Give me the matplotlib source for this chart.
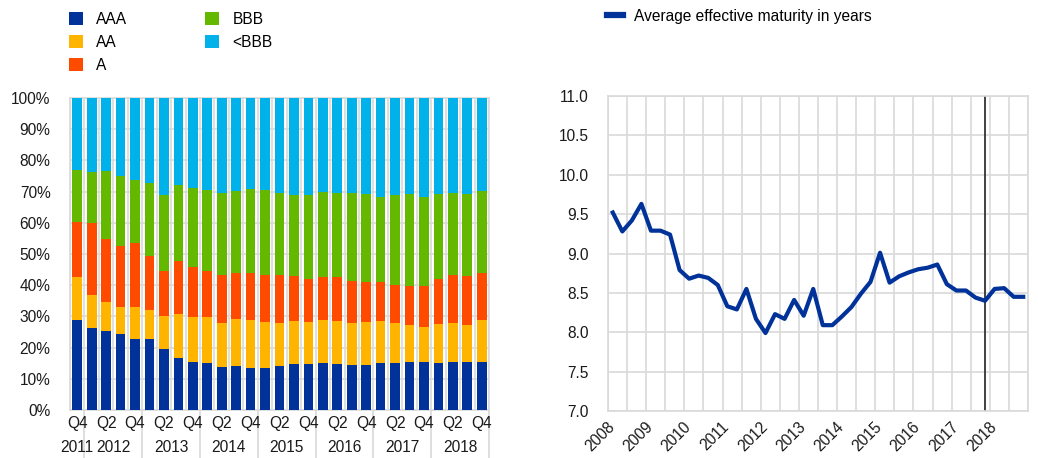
import numpy as np
import matplotlib
matplotlib.use('Agg')
import matplotlib.pyplot as plt
from matplotlib.patches import Patch
from matplotlib.lines import Line2D

plt.rcParams['font.family'] = ['Liberation Sans', 'DejaVu Sans']
plt.rcParams['font.size'] = 11.2

# left panel: rating shares, Q4 2011 - Q4 2018 (percent)
quarters = ['Q4'] + ['Q1', 'Q2', 'Q3', 'Q4'] * 7
years = ['2011', '2012', '2013', '2014', '2015', '2016', '2017', '2018']
aaa = [28.7, 26.3, 25.3, 24.4, 22.9, 22.9, 19.7, 16.8, 15.4, 15.1, 13.7, 14.0, 13.6, 13.6, 14.0,
       14.7, 14.9, 15.2, 14.8, 14.4, 14.4, 15.2, 15.2, 15.4, 15.4, 15.1, 15.5, 15.3, 15.5]
aa = [13.9, 10.4, 9.4, 8.6, 10.1, 9.2, 10.4, 14.1, 14.4, 14.7, 14.3, 15.1, 15.3, 14.6, 14.0,
      13.9, 13.3, 13.7, 13.8, 13.4, 13.8, 13.4, 12.6, 11.9, 11.2, 12.4, 12.5, 12.0, 13.2]
a = [17.8, 23.2, 20.0, 19.5, 20.5, 17.1, 14.4, 16.7, 15.9, 14.8, 15.2, 14.8, 15.0, 15.1, 15.3,
     14.5, 13.7, 13.7, 13.9, 13.4, 12.8, 12.4, 12.4, 12.6, 13.1, 14.6, 15.2, 15.5, 15.2]
bbb = [16.4, 16.4, 21.9, 22.5, 20.2, 23.6, 24.4, 24.4, 25.6, 26.0, 26.3, 26.3, 27.0, 27.3, 26.3,
       25.7, 26.9, 27.3, 27.1, 28.4, 28.2, 27.4, 28.6, 29.2, 28.5, 27.0, 26.4, 26.3, 26.2]
below_bbb = [23.2, 23.7, 23.4, 25.0, 26.3, 27.2, 31.1, 28.0, 28.7, 29.4, 30.5, 29.8, 29.1, 29.4, 30.4,
             31.2, 31.2, 30.1, 30.4, 30.4, 30.8, 31.6, 31.2, 30.9, 31.8, 30.9, 30.4, 30.9, 29.9]
rating_labels = ['AAA', 'AA', 'A', 'BBB', '<BBB']
rating_colors = ['#003299', '#FFB400', '#FF4B00', '#65B800', '#00B1EA']

# right panel: average effective maturity, quarterly 2008 Q1 - 2018 Q4
maturity = [9.52, 9.28, 9.42, 9.63, 9.29, 9.29, 9.24, 8.79, 8.68, 8.72, 8.69, 8.60,
            8.33, 8.29, 8.55, 8.17, 7.99, 8.23, 8.17, 8.41, 8.21, 8.55, 8.09, 8.09,
            8.20, 8.32, 8.49, 8.64, 9.01, 8.63, 8.71, 8.76, 8.80, 8.82, 8.86, 8.61,
            8.53, 8.53, 8.44, 8.40, 8.55, 8.56, 8.45, 8.45]
mat_years = [str(y) for y in range(2008, 2019)]
marker_idx = 39  # 2017 Q4

grid_col = '#D9D9D9'
txt_col = '#1A1A1A'

fig = plt.figure(figsize=(10.38, 4.58), dpi=100)

# ---- left chart
ax1 = fig.add_axes([70/1038, 48/458, 419/1038, 312/458])
x = np.arange(len(aaa))
bottom = np.zeros(len(aaa))
for vals, lab, col in zip([aaa, aa, a, bbb, below_bbb], rating_labels, rating_colors):
    ax1.bar(x, vals, bottom=bottom, width=0.67, color=col, label=lab, zorder=3)
    bottom += np.array(vals)

ax1.set_xlim(-0.5, len(aaa) - 0.5)
ax1.set_ylim(0, 100)
ax1.set_yticks(np.arange(0, 101, 10))
ax1.set_yticklabels(['%d%%' % v for v in range(0, 101, 10)])
ax1.set_xticks(x[::2])
ax1.set_xticklabels([quarters[i] for i in x[::2]])
ax1.set_xticks(np.arange(-0.5, len(aaa)), minor=True)
ax1.grid(axis='y', color=grid_col, lw=1.2, zorder=0)
ax1.grid(axis='x', which='minor', color=grid_col, lw=1.2, zorder=0)
ax1.tick_params(axis='both', which='both', length=0, colors=txt_col)
ax1.tick_params(axis='y', pad=14)
ax1.tick_params(axis='x', pad=4)
for s in ax1.spines.values():
    s.set_color(grid_col)
    s.set_linewidth(1.2)

trans = ax1.get_xaxis_transform()
# year row and separators
ax1.text(0, -0.121, years[0], transform=trans, ha='center', va='center', color=txt_col)
for k, yr in enumerate(years[1:]):
    ax1.text(2.5 + 4*k, -0.121, yr, transform=trans, ha='center', va='center', color=txt_col)
for xs in np.arange(0.5, len(aaa), 4):
    ax1.plot([xs, xs], [0, -0.16], transform=trans, color=grid_col, lw=1.2, clip_on=False, zorder=1)

handles = [Patch(facecolor=c, label=l) for l, c in zip(rating_labels, rating_colors)]
fig.legend(handles=handles, loc='upper left', bbox_to_anchor=(69/1038, 1 - 12/458), ncol=2,
           frameon=False, handlelength=0.9, handleheight=0.9, handletextpad=0.85,
           labelspacing=0.52, columnspacing=5.0, borderpad=0, borderaxespad=0)

# ---- right chart
ax2 = fig.add_axes([608/1038, 47/458, 420/1038, 315/458])
xm = np.arange(len(maturity))
ax2.plot(xm, maturity, color='#003299', lw=3, solid_joinstyle='round', zorder=3)
ax2.axvline(marker_idx, color='#333333', lw=1.3, zorder=2)
ax2.set_xlim(-0.5, len(maturity) - 0.5)
ax2.set_ylim(7.0, 11.0)
ax2.set_yticks(np.arange(7.0, 11.01, 0.5))
ax2.set_yticklabels(['%.1f' % v for v in np.arange(7.0, 11.01, 0.5)])
ax2.set_xticks(xm[::4] + 0.5)
ax2.set_xticklabels(mat_years, rotation=45, ha='right')
ax2.set_xticks(np.arange(-0.5, len(maturity), 2), minor=True)
ax2.grid(axis='y', color=grid_col, lw=1.2, zorder=0)
ax2.grid(axis='x', which='minor', color=grid_col, lw=1.2, zorder=0)
ax2.tick_params(axis='both', which='both', length=0, colors=txt_col)
ax2.tick_params(axis='y', pad=14)
ax2.tick_params(axis='x', pad=6)
for s in ax2.spines.values():
    s.set_color(grid_col)
    s.set_linewidth(1.2)

fig.legend(handles=[Line2D([0], [0], color='#003299', lw=4.5, label='Average effective maturity in years')],
           loc='center left', bbox_to_anchor=(607/1038, 1 - 16/458), frameon=False,
           handlelength=1.0, handletextpad=0.75, borderpad=0, borderaxespad=0)

fig.savefig('out.png', dpi=100)
